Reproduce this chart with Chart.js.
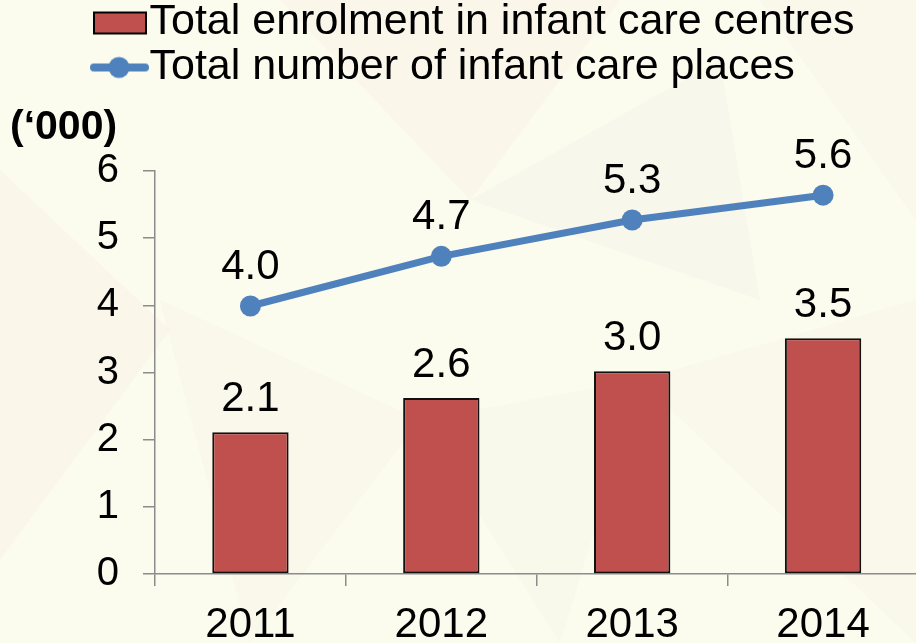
<!DOCTYPE html>
<html>
<head>
<meta charset="utf-8">
<script src="https://cdn.jsdelivr.net/npm/chart.js@4"></script>
<style>
  html, body { margin: 0; padding: 0; overflow: hidden; background: #fbfbee; }
  #wrap { position: relative; width: 929px; height: 643px; }
  #bg { position: absolute; left: 0; top: 0; }
  #myChart { position: absolute; left: 0; top: 0; }
</style>
</head>
<body>
<div id="wrap">
  <!-- faint decorative triangles of the slide background -->
  <svg id="bg" width="929" height="643">
    <polygon points="0,170 170,330 0,560" fill="#f7ebe0" opacity="0.3"/>
    <polygon points="280,0 620,0 470,200" fill="#f8ece2" opacity="0.3"/>
    <polygon points="470,200 720,60 760,300" fill="#f3f1e4" opacity="0.35"/>
    <polygon points="160,300 420,420 250,643" fill="#f8ede3" opacity="0.25"/>
    <polygon points="640,380 916,300 916,643" fill="#f8ece2" opacity="0.25"/>
    <polygon points="420,420 640,380 560,643" fill="#f2f2e3" opacity="0.3"/>
    <polygon points="760,0 916,0 916,220" fill="#f8ece2" opacity="0.25"/>
  </svg>
  <canvas id="myChart" width="929" height="643"></canvas>
</div>
<script>
var years = ["2011", "2012", "2013", "2014"];
var enrolment = [2.11, 2.62, 3.02, 3.51];
var places = [3.99, 4.73, 5.27, 5.64];
var yTicks = [0, 1, 2, 3, 4, 5, 6];
var seriesNames = ["Total enrolment in infant care centres", "Total number of infant care places"];

var barColor = "#c0504d";
var lineColor = "#4f81bd";
var axisColor = "#8c8c8c";
var fam = "'Liberation Sans', Arial, sans-serif";

// legend symbols (extra transparent space on the left so the drawn part sits next to the text)
function barSymbol() {
  var c = document.createElement("canvas");
  c.width = 90; c.height = 26;
  var g = c.getContext("2d");
  g.fillStyle = barColor;
  g.strokeStyle = "#000";
  g.lineWidth = 2;
  g.fillRect(34, 3, 52, 21);
  g.strokeRect(34, 3, 52, 21);
  return c;
}
function lineSymbol() {
  var c = document.createElement("canvas");
  c.width = 90; c.height = 26;
  var g = c.getContext("2d");
  g.strokeStyle = lineColor;
  g.lineWidth = 8;
  g.lineCap = "round";
  g.beginPath(); g.moveTo(34, 13); g.lineTo(85, 13); g.stroke();
  g.fillStyle = lineColor;
  g.beginPath(); g.arc(59, 13, 10.5, 0, Math.PI * 2); g.fill();
  return c;
}

var valueLabels = {
  id: "valueLabels",
  afterDatasetsDraw: function (chart) {
    var ctx = chart.ctx;
    ctx.save();
    ctx.font = "42px " + fam;
    ctx.fillStyle = "#000";
    ctx.textAlign = "center";
    ctx.textBaseline = "alphabetic";
    chart.data.datasets.forEach(function (ds, i) {
      var meta = chart.getDatasetMeta(i);
      var off = ds.type === "line" ? 27 : 21;
      meta.data.forEach(function (el, j) {
        ctx.fillText(ds.data[j].toFixed(1), el.x, el.y - off);
      });
    });
    ctx.restore();
  }
};

var legendShift = {
  id: "legendShift",
  afterLayout: function (chart) {
    chart.legend.left = 80;
    chart.legend.top -= 1;
  }
};

new Chart("myChart", {
  type: "bar",
  data: {
    labels: years,
    datasets: [
      {
        label: seriesNames[0],
        data: enrolment,
        backgroundColor: barColor,
        borderColor: "#111",
        borderWidth: 2,
        borderSkipped: false,
        barPercentage: 0.4,
        categoryPercentage: 1
      },
      {
        type: "line",
        label: seriesNames[1],
        data: places,
        borderColor: lineColor,
        backgroundColor: lineColor,
        borderWidth: 7,
        pointRadius: 10.5,
        pointHoverRadius: 10.5,
        pointBorderWidth: 0,
        tension: 0
      }
    ]
  },
  options: {
    responsive: false,
    animation: false,
    layout: { padding: { left: 10, top: 0, right: 0, bottom: 0 } },
    plugins: {
      tooltip: { enabled: false },
      legend: {
        position: "top",
        align: "start",
        labels: {
          usePointStyle: true,
          pointStyleWidth: 46,
          padding: 2,
          color: "#000",
          font: { size: 43, family: fam },
          generateLabels: function () {
            return [
              { text: seriesNames[0], pointStyle: barSymbol(), datasetIndex: 0, lineWidth: 0 },
              { text: seriesNames[1], pointStyle: lineSymbol(), datasetIndex: 1, lineWidth: 0 }
            ];
          }
        }
      },
      title: {
        display: true,
        text: "(\u2018000)",
        align: "start",
        weight: 500,
        color: "#000",
        font: { size: 41, weight: "bold", family: fam },
        padding: { top: 3.5, bottom: 18.3 }
      }
    },
    scales: {
      x: {
        offset: true,
        grid: { offset: true, drawOnChartArea: false, color: axisColor, lineWidth: 1.5, tickLength: 12 },
        border: { color: axisColor, width: 1.5 },
        ticks: { color: "#000", padding: 14, font: { size: 42, family: fam } },
        afterFit: function (s) { s.height = 69; }
      },
      y: {
        min: 0,
        max: 6,
        afterBuildTicks: function (s) { s.ticks = yTicks.map(function (v) { return { value: v }; }); },
        grid: { drawOnChartArea: false, color: axisColor, lineWidth: 1.5, tickLength: 12 },
        border: { color: axisColor, width: 1.5 },
        ticks: { color: "#000", padding: 24, font: { size: 40, family: fam } },
        afterFit: function (s) { s.width = 145; }
      }
    }
  },
  plugins: [valueLabels, legendShift]
});
</script>
</body>
</html>
